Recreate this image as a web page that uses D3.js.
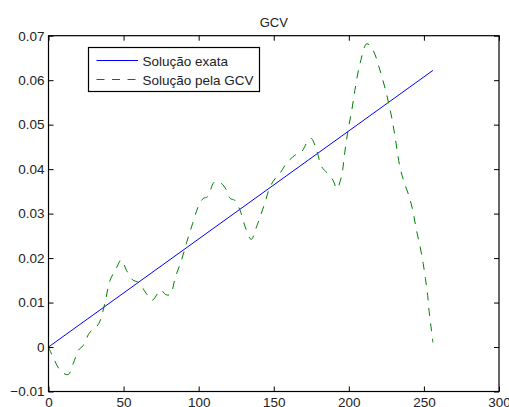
<!DOCTYPE html>
<html>
<head>
<meta charset="utf-8">
<script src="https://cdn.jsdelivr.net/npm/d3@7"></script>
<style>
  html, body { margin: 0; padding: 0; background: #fff; }
  svg { display: block; }
  text { font-family: "Liberation Sans", Arial, Helvetica, sans-serif; fill: #222; }
</style>
</head>
<body>
<svg id="chart" width="509" height="407"></svg>
<script>
// ---- data ----
const title = "GCV";
const seriesNames = ["Solução exata", "Solução pela GCV"];
const xTicks = [0, 50, 100, 150, 200, 250, 300];
const yTicks = [-0.01, 0, 0.01, 0.02, 0.03, 0.04, 0.05, 0.06, 0.07];
const yTickLabels = ["\u22120.01", "0", "0.01", "0.02", "0.03", "0.04", "0.05", "0.06", "0.07"];

const exactX = [0, 256];
const exactY = [0, 0.0622];

const gcvX = [0, 4, 8, 13, 16.5, 20, 23, 27.5, 31, 34, 37.5, 41, 45, 48.5, 52, 56, 60, 65, 69, 73, 75, 78, 81,
  84.5, 88.5, 92, 96, 100, 103, 106, 110.5, 115, 118.5, 121, 124, 127.5, 131, 135, 138.5, 144, 147.5, 151, 154,
  158.5, 164, 168.5, 173, 175, 178.5, 182, 186, 189.5, 192, 195, 197.5, 199.5, 202, 204, 207.5, 212, 216, 220.5,
  225, 228.5, 231, 234, 237, 240.5, 243, 245, 247.5, 249.5, 251, 252.5, 253.5, 255, 256];
const gcvY = [0, -0.003, -0.0053, -0.0062, -0.0037, -0.0007, 0.0003, 0.0033, 0.0042, 0.0056, 0.0098, 0.015, 0.0176,
  0.0196, 0.0172, 0.0151, 0.0145, 0.0121, 0.0105, 0.0122, 0.0128, 0.0118, 0.0118, 0.0157, 0.0195, 0.0235, 0.0278,
  0.0318, 0.0334, 0.0338, 0.0371, 0.0368, 0.0353, 0.0334, 0.033, 0.0308, 0.027, 0.0242, 0.027, 0.0323, 0.036,
  0.0379, 0.039, 0.0413, 0.0431, 0.0439, 0.0465, 0.0469, 0.0443, 0.0405, 0.039, 0.0375, 0.0356, 0.0382, 0.0443,
  0.0488, 0.0533, 0.0577, 0.0638, 0.0682, 0.0668, 0.0625, 0.057, 0.0517, 0.0468, 0.0405, 0.0369, 0.0335, 0.030,
  0.0263, 0.0225, 0.0188, 0.0154, 0.0116, 0.0079, 0.0038, 0.001];

// ---- layout ----
const L = 48.5, R = 499, T = 35.7, B = 391.5;
const svg = d3.select("#chart");
const x = d3.scaleLinear().domain([0, 300]).range([L, R]);
const y = d3.scaleLinear().domain([-0.01, 0.07]).range([B, T]);
const fs = 13.5;

// lines
const exactData = exactX.map((v, i) => [v, exactY[i]]);
const gcvData = gcvX.map((v, i) => [v, gcvY[i]]);
const line = d3.line().x(d => x(d[0])).y(d => y(d[1])).curve(d3.curveCatmullRom.alpha(0.5));

svg.append("path").datum(exactData).attr("d", d3.line().x(d => x(d[0])).y(d => y(d[1])))
  .attr("fill", "none").attr("stroke", "#0000ff").attr("stroke-width", 1);
svg.append("path").datum(gcvData).attr("d", line)
  .attr("fill", "none").attr("stroke", "#008000").attr("stroke-width", 1)
  .attr("stroke-dasharray", "8,7.5");

// axes (MATLAB style: ticks inward on all 4 sides)
const tl = 5;
const g = svg.append("g");
g.append("g").attr("transform", `translate(0,${B})`)
  .call(d3.axisBottom(x).tickValues(xTicks).tickSizeInner(-tl).tickSizeOuter(0).tickPadding(6))
  .call(s => s.select(".domain").remove());
g.append("g").attr("transform", `translate(0,${T})`)
  .call(d3.axisTop(x).tickValues(xTicks).tickSizeInner(-tl).tickSizeOuter(0).tickFormat(""))
  .call(s => s.select(".domain").remove());
g.append("g").attr("transform", `translate(${L},0)`)
  .call(d3.axisLeft(y).tickValues(yTicks).tickSizeInner(-tl).tickSizeOuter(0).tickPadding(4)
    .tickFormat((d, i) => yTickLabels[i]))
  .call(s => s.select(".domain").remove());
g.append("g").attr("transform", `translate(${R},0)`)
  .call(d3.axisRight(y).tickValues(yTicks).tickSizeInner(-tl).tickSizeOuter(0).tickFormat(""))
  .call(s => s.select(".domain").remove());
g.selectAll(".tick line").attr("stroke", "#000").attr("stroke-width", 1);
g.selectAll(".tick text").attr("font-size", fs).attr("font-family", "Liberation Sans, Arial, sans-serif").attr("fill", "#222");

svg.append("rect").attr("x", L).attr("y", T).attr("width", R - L).attr("height", B - T)
  .attr("fill", "none").attr("stroke", "#000").attr("stroke-width", 1.2);

// title
svg.append("text").attr("x", (L + R) / 2).attr("y", 27).attr("text-anchor", "middle")
  .attr("font-size", 13).text(title);

// legend
const lg = svg.append("g");
lg.append("rect").attr("x", 88.5).attr("y", 47.5).attr("width", 171).attr("height", 44)
  .attr("fill", "#fff").attr("stroke", "#000").attr("stroke-width", 1.2);
const rows = [
  { name: seriesNames[0], color: "#0000ff", dash: null, yy: 60.5 },
  { name: seriesNames[1], color: "#008000", dash: "8,7.5", yy: 79.5 }
];
rows.forEach(r => {
  lg.append("line").attr("x1", 96.5).attr("x2", 138).attr("y1", r.yy).attr("y2", r.yy)
    .attr("stroke", r.color).attr("stroke-width", 1).attr("stroke-dasharray", r.dash);
  lg.append("text").attr("x", 142.5).attr("y", r.yy + 5).attr("font-size", fs).text(r.name);
});
</script>
</body>
</html>
